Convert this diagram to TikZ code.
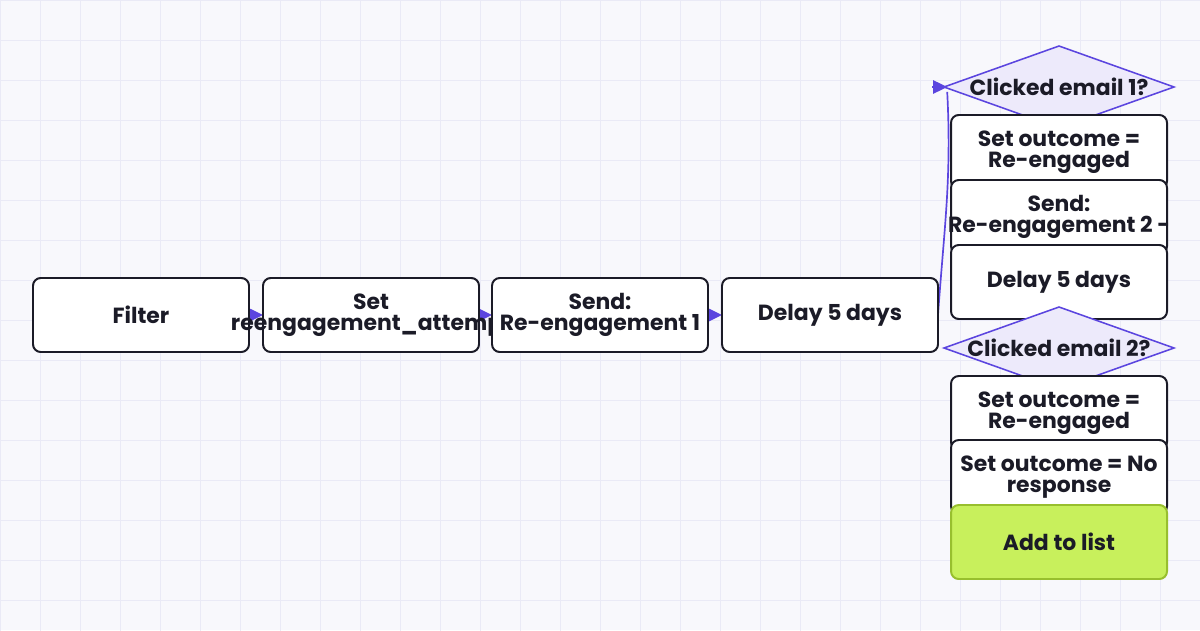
\documentclass[tikz,border=0pt]{standalone}
\usepackage{fontspec}
\setmainfont{Poppins}
\usepackage{xcolor}
\usepackage{tikz}
\usetikzlibrary{positioning,calc,arrows.meta,backgrounds}
\usetikzlibrary{shapes.geometric}

\definecolor{flowline}{HTML}{5B45DF}
\definecolor{qfill}{HTML}{EDEAFB}
\definecolor{ink}{HTML}{1B1B27}
\definecolor{limefill}{HTML}{C8F05C}
\definecolor{limeedge}{HTML}{98BF2E}
\definecolor{paper}{HTML}{F8F8FC}
\definecolor{gridcol}{HTML}{EAEAF6}
\newcommand{\zw}[1]{\makebox[0pt]{#1}}

\begin{document}
\begin{tikzpicture}[
		box/.style={draw=ink,line width=1.4pt,fill=white,rounded corners=5.5pt,minimum width=5.4cm,minimum height=1.85cm,inner sep=0pt,outer sep=0pt,align=center,text=ink,font=\fontsize{15.6}{14.8}\selectfont\bfseries},
		query/.style={diamond,draw=flowline,line width=1.1pt,fill=qfill,minimum width=5.75cm,minimum height=2.05cm,inner sep=0pt,outer sep=0pt,text=ink,font=\fontsize{15.6}{14.8}\selectfont\bfseries},
		goal/.style={box,draw=limeedge,fill=limefill},
		flow/.style={draw=flowline,line width=1.1pt,-{Triangle[length=10pt,width=9.5pt]}}
	]
		\useasboundingbox (0,0) rectangle (30,15.75);
		\begin{scope}[on background layer]
			\fill[paper] (0,0) rectangle (30,15.75);
			\begin{scope}[yshift=-0.25cm]
				\draw[gridcol,line width=0.6pt] (0,0) grid[step=1cm] (30,16);
			\end{scope}
		\end{scope}
		% main row
		\node[box] (filter) at (3.525,7.875) {Filter};
		\node[box,right=0.35cm of filter] (setattempt) {\zw{Set}\\\zw{reengagement\_attempt}};
		\node[box,right=0.325cm of setattempt] (send1) {\zw{Send:}\\\zw{Re-engagement 1}};
		\node[box,right=0.35cm of send1] (delay1) {Delay 5 days};
		% right column
		\node[query] (q1) at (26.475,13.575) {\zw{Clicked email 1?}};
		\node[box] (engaged1) at (26.475,11.95) {\zw{Set outcome =}\\\zw{Re-engaged}};
		\node[box] (send2) at (26.475,10.325) {\zw{Send:}\\\zw{Re-engagement 2 -}};
		\node[box] (delay2) at (26.475,8.7) {Delay 5 days};
		\node[query] (q2) at (26.475,7.05) {\zw{Clicked email 2?}};
		\node[box] (engaged2) at (26.475,5.425) {\zw{Set outcome =}\\\zw{Re-engaged}};
		\node[box] (noresp) at (26.475,3.825) {\zw{Set outcome = No}\\\zw{response}};
		\node[goal] (addlist) at (26.475,2.2) {Add to list};
		% connectors
		\begin{scope}[on background layer]
			\draw[flow] (filter) -- (setattempt);
			\draw[flow] (setattempt) -- (send1);
			\draw[flow] (send1) -- (delay1);
			\coordinate (q1in) at ($(q1.west)+(-0.3,0)$);
			\draw[flowline,line width=1.2pt] (delay1.east) to[out=86,in=-87] ($(q1.west)+(0.08,-0.12)$);
			\draw[flow] (q1in) -- ($(q1.west)+(0.08,0)$);
		\end{scope}
	\end{tikzpicture}
\end{document}
